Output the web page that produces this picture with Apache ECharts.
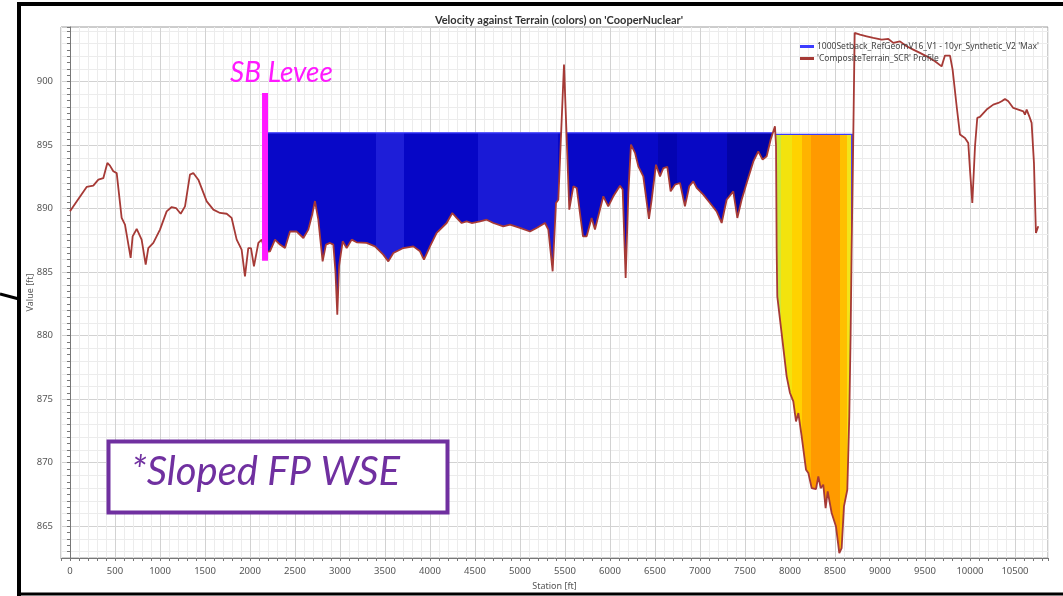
<!DOCTYPE html>
<html>
<head>
<meta charset="utf-8">
<title>Velocity against Terrain</title>
<script src="https://cdn.jsdelivr.net/npm/echarts@6.0.0/dist/echarts.min.js"></script>
<style>
  html, body { margin: 0; padding: 0; background: #fff; }
  #main { width: 1063px; height: 596px; }
</style>
</head>
<body>
<div id="main"></div>
<script>
// terrain profile (station ft, elevation ft)
var stations = [0, 74, 185, 259, 315, 370, 415, 444, 481, 519, 574, 611, 674, 696, 741, 796, 841, 870, 926,
  1000, 1074, 1130, 1178, 1230, 1278, 1333, 1370, 1426, 1519, 1593, 1667, 1741, 1796, 1852, 1907, 1944, 1981,
  2011, 2044, 2093, 2130, 2170, 2222, 2278, 2333, 2389, 2444, 2519, 2593, 2648, 2690, 2722, 2759, 2807, 2844,
  2889, 2926, 2950, 2970, 2990, 3030, 3074, 3130, 3185, 3296, 3389, 3481, 3537, 3593, 3704, 3815, 3889, 3933,
  4000, 4074, 4185, 4248, 4296, 4352, 4407, 4463, 4556, 4630, 4704, 4815, 4889, 5000, 5111, 5185, 5278, 5315,
  5363, 5400, 5426, 5489, 5548, 5593, 5630, 5700, 5741, 5796, 5833, 5870, 5926, 5981, 6037, 6111, 6141, 6174,
  6204, 6233, 6278, 6315, 6370, 6433, 6463, 6511, 6556, 6593, 6637, 6674, 6722, 6778, 6833, 6881, 6926, 6963,
  7037, 7111, 7185, 7241, 7296, 7370, 7415, 7463, 7519, 7593, 7648, 7696, 7741, 7785, 7833, 7845, 7852, 7859,
  7907, 7963, 8000, 8037, 8067, 8093, 8130, 8178, 8204, 8241, 8289, 8315, 8341, 8370, 8396, 8419, 8463, 8511,
  8548, 8574, 8600, 8637, 8659, 8674, 8685, 8704, 8719, 8778, 8852, 8926, 9019, 9093, 9148, 9222, 9296, 9370,
  9444, 9519, 9611, 9685, 9722, 9778, 9807, 9852, 9889, 9944, 9981, 10000, 10026, 10056, 10081, 10111, 10185,
  10259, 10315, 10352, 10389, 10426, 10481, 10537, 10593, 10611, 10630, 10659, 10685, 10711, 10733, 10759];
var terrain = [889.8, 890.57, 891.71, 891.81, 892.28, 892.4, 893.6, 893.39, 892.94, 892.8, 889.27, 888.74, 886.12,
  887.82, 888.4, 887.56, 885.59, 886.9, 887.3, 888.35, 889.79, 890.13, 890.05, 889.6, 890.18, 892.68, 892.81,
  892.28, 890.57, 889.92, 889.66, 889.6, 889.27, 887.56, 886.77, 884.67, 886.9, 886.9, 885.46, 887.3, 887.56,
  886.6, 886.64, 887.56, 887.17, 886.9, 888.2, 888.2, 887.69, 888.35, 889.5, 890.6, 889.13, 885.85, 887.17,
  887.3, 887.17, 885.0, 881.65, 885.5, 887.43, 886.9, 887.56, 887.35, 887.3, 887.03, 886.38, 885.85, 886.51,
  886.9, 887.03, 886.64, 885.98, 887.03, 888.09, 888.87, 889.66, 889.27, 888.87, 889.0, 888.87, 889.0, 889.13,
  888.87, 888.61, 888.74, 888.48, 888.2, 888.48, 888.87, 888.35, 885.07, 890.45, 890.7, 901.34, 889.92, 891.76,
  891.63, 887.82, 887.82, 889.27, 888.35, 889.4, 890.97, 890.18, 890.97, 891.81, 891.5, 884.54, 891.24, 895.04,
  894.39, 893.33, 892.54, 889.19, 890.7, 893.46, 892.54, 893.2, 893.28, 891.36, 891.89, 892.02, 890.18, 891.76,
  892.15, 891.63, 891.1, 890.45, 889.79, 888.87, 890.7, 891.36, 889.27, 890.7, 892.02, 893.72, 894.51, 893.86,
  894.12, 895.43, 896.48, 895.0, 886.77, 883.1, 880.21, 876.8, 875.49, 874.83, 873.25, 873.91, 872.07, 869.45,
  869.19, 868.0, 867.93, 868.92, 868.0, 868.27, 866.43, 867.74, 866.04, 864.98, 862.89, 863.28, 866.56, 867.87,
  873.65, 880.21, 886.77, 895.96, 903.83, 903.7, 903.57, 903.44, 903.31, 903.36, 903.05, 903.17, 902.78, 902.52,
  902.26, 901.99, 901.6, 901.2, 902.05, 902.05, 900.94, 898.06, 895.83, 895.57, 895.17, 893.07, 890.45, 894.91,
  897.14, 897.22, 897.8, 898.19, 898.32, 898.45, 898.64, 898.45, 897.93, 897.8, 897.66, 897.4, 897.8, 897.27,
  896.75, 893.6, 888.09, 888.61];

// max water surface, two ponded reaches
var poolFrom = [2170, 7833];
var poolTo = [7833, 8720];
var poolLevel = [895.97, 895.85];

// velocity colour bands along station
var bandEdges = [2100, 3400, 3710, 4530, 5420, 6530, 6745, 7300, 7836, 7895, 8022, 8133, 8233, 8555, 8633, 8678, 8800];
var bandColors = ['#0808c8', '#1e1ed8', '#0606c6', '#1a1ad6', '#0808c8', '#0404b2', '#0808c4', '#0303a6',
  '#cde83a', '#f2e30e', '#ffd200', '#ffb300', '#ff9a00', '#ffbf00', '#f2e41a', '#4a4af0'];

// levee marker
var leveeStation = [2167, 2167];
var leveeValue = [885.9, 899.1];

var terrainName = "'CompositeTerrain_SCR' Profile";
var wseName = "1000Setback_RefGeomV16_V1 - 10yr_Synthetic_V2 'Max'";

// terrain clipped to a level, with crossing points where it meets the water surface
function clipToLevel(x0, x1, level) {
  var out = [];
  for (var i = 0; i < stations.length; i++) {
    var s = stations[i], e = terrain[i];
    if (i > 0) {
      var ps = stations[i - 1], pe = terrain[i - 1];
      if ((pe - level) * (e - level) < 0) {
        var cx = ps + (level - pe) * (s - ps) / (e - pe);
        if (cx > x0 && cx < x1) out.push([cx, level]);
      }
    }
    if (s >= x0 && s <= x1) out.push([s, Math.min(e, level)]);
  }
  return out;
}

function wetSurface(pts, level) {
  var out = [];
  for (var i = 0; i < pts.length; i++) {
    var dry = pts[i][1] >= level &&
      (i === 0 || pts[i - 1][1] >= level) &&
      (i === pts.length - 1 || pts[i + 1][1] >= level);
    out.push(dry ? [pts[i][0], '-'] : [pts[i][0], level]);
  }
  return out;
}

var series = [];
var surfaceLine = [];
for (var p = 0; p < poolLevel.length; p++) {
  var pts = clipToLevel(poolFrom[p], poolTo[p], poolLevel[p]);
  series.push({
    type: 'line',
    data: pts,
    symbol: 'none',
    silent: true,
    lineStyle: { width: 0 },
    areaStyle: { origin: poolLevel[p], opacity: 1 },
    z: 1
  });
  if (p > 0) surfaceLine.push([poolFrom[p], '-']);
  surfaceLine = surfaceLine.concat(wetSurface(pts, poolLevel[p]));
}

series.push({
  name: wseName,
  type: 'line',
  data: surfaceLine,
  symbol: 'none',
  color: '#3c3cff',
  lineStyle: { width: 1.2 },
  z: 2
});

series.push({
  name: terrainName,
  type: 'line',
  data: stations.map(function (s, i) { return [s, terrain[i]]; }),
  symbol: 'none',
  color: '#a63a36',
  lineStyle: { width: 1.8 },
  z: 3
});

series.push({
  type: 'line',
  data: leveeStation.map(function (s, i) { return [s, leveeValue[i]]; }),
  symbol: 'none',
  silent: true,
  color: '#ff1aff',
  lineStyle: { width: 6, cap: 'butt' },
  z: 4
});

var pieces = [];
for (var b = 0; b < bandColors.length; b++) {
  pieces.push({ gte: bandEdges[b], lt: bandEdges[b + 1], color: bandColors[b] });
}

var minorGrid = '#ececec', majorGrid = '#d2d2d2';
var baseFont = 'Noto Sans';

var chart = echarts.init(document.getElementById('main'));
chart.setOption({
  animation: false,
  backgroundColor: '#fff',
  title: {
    text: "Velocity against Terrain (colors) on 'CooperNuclear'",
    left: 554,
    top: 10,
    textAlign: 'center',
    textStyle: { fontSize: 11, fontWeight: 'bold', color: '#333', fontFamily: 'Lato' }
  },
  legend: {
    data: [wseName, terrainName],
    orient: 'vertical',
    left: 795,
    top: 37,
    itemGap: 3,
    itemWidth: 14,
    itemHeight: 3,
    icon: 'rect',
    textStyle: { fontSize: 8.5, color: '#444', fontFamily: baseFont, padding: [0, 0, 0, -2] }
  },
  grid: {
    left: 61, right: 15, top: 27, bottom: 38,
    show: true, borderColor: '#9a9a9a', borderWidth: 1
  },
  visualMap: {
    show: false,
    type: 'piecewise',
    dimension: 0,
    seriesIndex: [0, 1],
    pieces: pieces
  },
  xAxis: {
    type: 'value',
    min: -100,
    max: 10867,
    interval: 100,
    name: 'Station [ft]',
    nameLocation: 'middle',
    nameGap: 24,
    nameMoveOverlap: false,
    nameTextStyle: { fontSize: 9, color: '#555', fontFamily: baseFont },
    axisLine: { lineStyle: { color: '#777' } },
    axisTick: { length: 3, lineStyle: { color: '#777' } },
    axisLabel: {
      color: '#555', fontSize: 9.5, fontFamily: baseFont, margin: 8,
      formatter: function (v) { var r = Math.round(v); return (r >= 0 && r % 500 === 0) ? String(r) : ''; }
    },
    splitLine: { lineStyle: { color: [minorGrid, majorGrid, minorGrid, minorGrid, minorGrid], width: 1 } }
  },
  yAxis: {
    type: 'value',
    min: 862.5,
    max: 904.3,
    interval: 0.5,
    name: 'Value [ft]',
    nameLocation: 'middle',
    nameGap: 26,
    nameMoveOverlap: false,
    nameTextStyle: { fontSize: 9, color: '#555', fontFamily: baseFont },
    axisLine: { show: true, lineStyle: { color: '#777' } },
    axisTick: { show: true, length: 3, lineStyle: { color: '#777' } },
    axisLabel: {
      color: '#555', fontSize: 9.5, fontFamily: baseFont, margin: 8,
      formatter: function (v) { var r = Math.round(v); return (Math.abs(v - r) < 1e-6 && r % 5 === 0) ? String(r) : ''; }
    },
    splitLine: {
      lineStyle: {
        color: ['transparent', minorGrid, 'transparent', minorGrid, 'transparent', majorGrid,
          'transparent', minorGrid, 'transparent', minorGrid],
        width: 1
      }
    }
  },
  graphic: [
    { type: 'line', z: 100, shape: { x1: 18, y1: 4, x2: 1063, y2: 4 }, style: { stroke: '#000', lineWidth: 4 } },
    { type: 'line', z: 100, shape: { x1: 19, y1: 2, x2: 19, y2: 596 }, style: { stroke: '#000', lineWidth: 4 } },
    { type: 'line', z: 100, shape: { x1: 18, y1: 594, x2: 1063, y2: 594 }, style: { stroke: '#000', lineWidth: 3 } },
    { type: 'line', z: 100, shape: { x1: 0, y1: 294, x2: 19, y2: 299 }, style: { stroke: '#000', lineWidth: 3 } },
    { type: 'text', z: 100, left: 230, top: 59, style: { text: 'SB Levee', fill: '#ff19ff', font: 'italic 28px Lato' } },
    { type: 'rect', z: 100, shape: { x: 108.5, y: 441.5, width: 339, height: 71 },
      style: { fill: '#fff', stroke: '#7030a0', lineWidth: 4 } },
    { type: 'text', z: 101, left: 131, top: 452, style: { text: '*Sloped FP WSE', fill: '#7030a0', font: 'italic 40px Lato' } }
  ],
  series: series
});
</script>
</body>
</html>
